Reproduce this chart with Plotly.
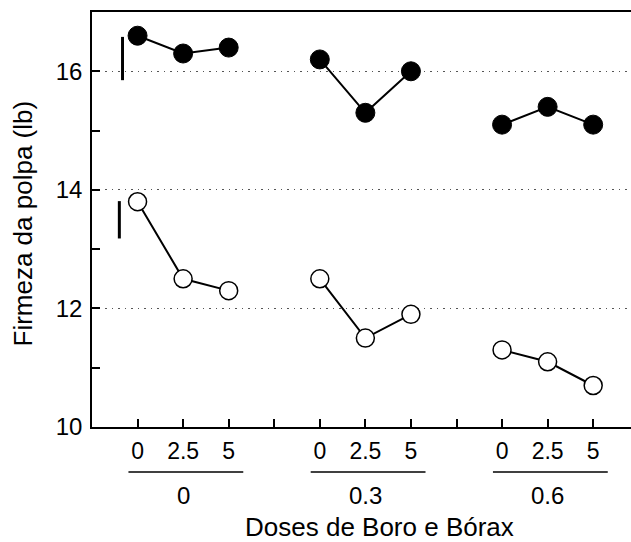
import plotly.graph_objects as go

# ---- data ----
groups = ["0", "0.3", "0.6"]            # Boro doses (group labels)
doses = ["0", "2.5", "5"]               # Bórax doses within each group
filled_vals = [[16.6, 16.3, 16.4],
               [16.2, 15.3, 16.0],
               [15.1, 15.4, 15.1]]
open_vals = [[13.8, 12.5, 12.3],
             [12.5, 11.5, 11.9],
             [11.3, 11.1, 10.7]]
lsd_filled = [15.85, 16.58]
lsd_open = [13.18, 13.81]
lsd_x_filled = 0.67
lsd_x_open = 0.60
y_ticks = [10, 12, 14, 16]

GAP = 4  # category slots per group (3 doses + spacer)


def build(vals):
    xs, ys = [], []
    for g, row in enumerate(vals):
        for d, v in enumerate(row):
            xs.append(g * GAP + d + 1)
            ys.append(v)
        xs.append(None)
        ys.append(None)
    return xs, ys


tickvals, ticktext = [], []
for g in range(len(groups)):
    for d, lab in enumerate(doses):
        tickvals.append(g * GAP + d + 1)
        ticktext.append(lab)
    if g < len(groups) - 1:
        tickvals.append(g * GAP + len(doses) + 1)
        ticktext.append("")

FONT = "Arial, Liberation Sans, Helvetica, sans-serif"

fig = go.Figure()

# LSD bars
fig.add_trace(go.Scatter(x=[lsd_x_filled, lsd_x_filled], y=lsd_filled, mode="lines",
                         line=dict(color="black", width=3), showlegend=False,
                         hoverinfo="skip"))
fig.add_trace(go.Scatter(x=[lsd_x_open, lsd_x_open], y=lsd_open, mode="lines",
                         line=dict(color="black", width=3), showlegend=False,
                         hoverinfo="skip"))

fx, fy = build(filled_vals)
ox, oy = build(open_vals)
fig.add_trace(go.Scatter(x=fx, y=fy, mode="lines+markers", connectgaps=False,
                         line=dict(color="black", width=2),
                         marker=dict(size=19, color="black", line=dict(color="black", width=1)),
                         showlegend=False))
fig.add_trace(go.Scatter(x=ox, y=oy, mode="lines+markers", connectgaps=False,
                         line=dict(color="black", width=2),
                         marker=dict(size=18, color="white", line=dict(color="black", width=1.5)),
                         showlegend=False))

B = 115
H = 542
plot_h = H - 12 - B


def py(px):
    return (H - B - px) / plot_h


shapes = []
annotations = []
centers = [g * GAP + 2 for g in range(len(groups))]
for c, lab in zip(centers, groups):
    shapes.append(dict(type="line", xref="x", yref="paper",
                       x0=c - 1.2, x1=c + 1.32, y0=py(472), y1=py(472),
                       line=dict(color="black", width=1.5)))
    annotations.append(dict(x=c, y=py(495), xref="x", yref="paper", text=lab,
                            showarrow=False, xanchor="center", yanchor="middle",
                            font=dict(family=FONT, size=24, color="black")))

annotations.append(dict(x=(379 - 92) / 539, y=py(527), xref="paper", yref="paper",
                        text="Doses de Boro e Bórax", showarrow=False,
                        xanchor="center", yanchor="middle",
                        font=dict(family=FONT, size=26, color="black")))
annotations.append(dict(x=(22 - 92) / 539, y=py(223.5), xref="paper", yref="paper",
                        text="Firmeza da polpa (lb)", showarrow=False, textangle=-90,
                        xanchor="center", yanchor="middle",
                        font=dict(family=FONT, size=26, color="black")))

fig.update_layout(
    width=631, height=542,
    margin=dict(l=92, r=0, t=12, b=B),
    paper_bgcolor="white", plot_bgcolor="white",
    shapes=shapes, annotations=annotations,
    xaxis=dict(range=[0, 11.83], tickvals=tickvals, ticktext=ticktext,
               ticks="inside", ticklen=8, tickwidth=1.5, tickcolor="black",
               showline=True, linecolor="black", linewidth=1.5, mirror=True,
               showgrid=False, zeroline=False, ticklabelstandoff=3,
               tickfont=dict(family=FONT, size=23, color="black")),
    yaxis=dict(range=[10, 17], tickvals=y_ticks,
               ticks="inside", ticklen=8, tickwidth=1.5, tickcolor="black",
               showline=True, linecolor="black", linewidth=1.5,
               showgrid=True, gridcolor="#555555", griddash="1.5px,5px", gridwidth=1,
               zeroline=False, ticklabelstandoff=3,
               minor=dict(dtick=1, tick0=10, ticks="inside", ticklen=8,
                          tickwidth=1.5, tickcolor="black", showgrid=False),
               tickfont=dict(family=FONT, size=24, color="black")),
)

fig.write_html("out.html")
